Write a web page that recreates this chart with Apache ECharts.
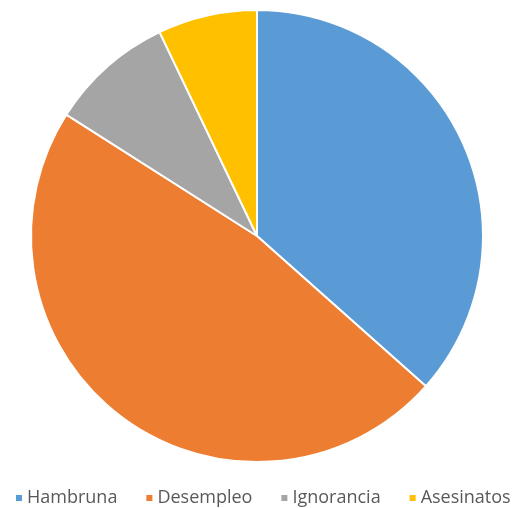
<!DOCTYPE html>
<html><head><meta charset="utf-8">
<script src="https://cdn.jsdelivr.net/npm/echarts@6/dist/echarts.min.js"></script>
<style>html,body{margin:0;padding:0;background:#fff}#c{width:512px;height:508px}</style>
</head><body><div id="c"></div>
<script>
const categories = ["Hambruna", "Desempleo", "Ignorancia", "Asesinatos"];
const values = [36.6, 47.5, 8.9, 7.1];
const colors = ["#5B9BD5", "#ED7D31", "#A5A5A5", "#FFC000"];

const chart = echarts.init(document.getElementById('c'), null, {renderer: 'canvas'});
chart.setOption({
  animation: false,
  color: colors,
  legend: {
    top: 489,
    left: 14,
    icon: 'rect',
    itemWidth: 8,
    itemHeight: 8,
    itemGap: 27,
    padding: 0,
    textStyle: {fontFamily: 'Open Sans', fontSize: 18, color: '#595959', padding: [0, 0, 0, -1]},
    data: categories
  },
  series: [{
    type: 'pie',
    center: [257, 236],
    radius: [0, 226],
    startAngle: 90,
    clockwise: true,
    label: {show: false},
    labelLine: {show: false},
    itemStyle: {borderColor: '#fff', borderWidth: 2},
    data: categories.map((n, i) => ({name: n, value: values[i]}))
  }]
});
</script></body></html>
